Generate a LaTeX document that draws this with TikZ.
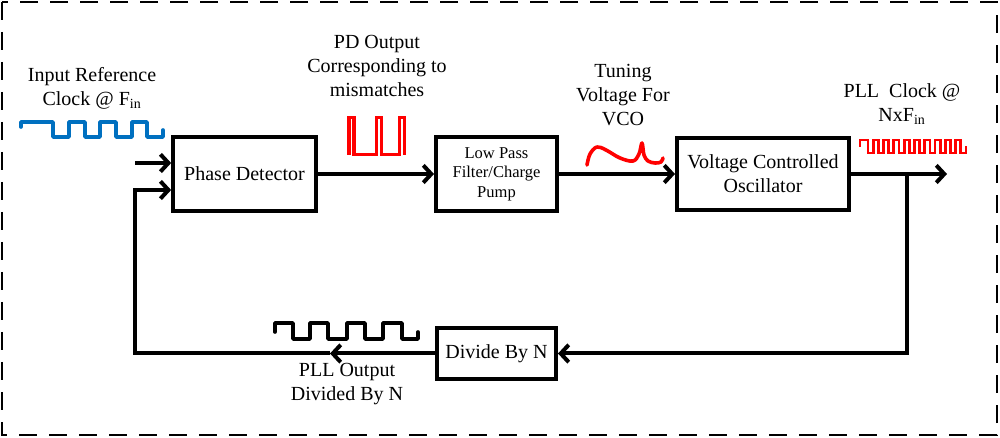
\documentclass[tikz,border=0pt]{standalone}
\usepackage{fontspec}
\setmainfont{Liberation Serif}
\usetikzlibrary{arrows.meta}
\definecolor{wblue}{RGB}{0,112,192}
\definecolor{wred}{RGB}{255,0,0}
\begin{document}
\begin{tikzpicture}[x=0.75pt,y=-0.75pt,
  blk/.style={draw,line width=3pt,inner sep=0pt,align=center,font=\fontsize{15}{18}\selectfont},
  lbl/.style={align=center,inner sep=0pt,font=\fontsize{15}{18}\selectfont},
  conn/.style={line width=3pt,line join=miter},
  arr/.style={conn,-{Straight Barb[length=6pt,width=13pt]}},
  wave/.style={line width=2.7pt,line join=round,line cap=round}]
\useasboundingbox (0,0) rectangle (1000,438);
\draw[line width=2pt,dash pattern=on 13.5pt off 9pt] (2,2) rectangle (997,435);

% blocks
\node[blk,minimum width=107pt,minimum height=56pt] (pd) at (244.5,174) {Phase Detector};
\node[blk,minimum width=90.75pt,minimum height=55.5pt,font=\fontsize{12.4}{14.6}\selectfont] (lpf) at (496.5,174) {Low Pass\\Filter/Charge\\Pump};
\node[blk,minimum width=129pt,minimum height=54pt] (vco) at (763,174) {Voltage Controlled\\Oscillator};
\node[blk,minimum width=89.25pt,minimum height=38.25pt] (div) at (496.5,353.5) {Divide By N};

% labels
\node[lbl] (lin) at (92,88) {Input Reference\\Clock @ F\textsubscript{in}};
\node[lbl] (lpd) at (377,66) {PD Output\\Corresponding to\\mismatches};
\node[lbl] (ltv) at (623,95) {Tuning\\Voltage For\\VCO};
\node[lbl] (lpll) at (902,104.5) {PLL\ \ Clock @\\NxF\textsubscript{in}};
\node[lbl] (lout) at (347,384) {PLL Output\\Divided By N};

% coordinates
\coordinate (in1) at (135,163);
\coordinate (fbt) at (135,190);
\coordinate (fbl) at (135,353.5);
\coordinate (mid) at (330,353.5);
\coordinate (out) at (947,174);
\coordinate (br) at (907,174);
\coordinate (brb) at (907,353.5);

% connectors
\draw[arr] (in1) -- (pd.west |- in1);
\draw[arr] (pd.east) -- (lpf.west);
\draw[arr] (lpf.east) -- (vco.west);
\draw[arr] (vco.east) -- (out);
\draw[arr] (br) -- (brb) -- (div.east);
\draw[arr] (div.west) -- (mid);
\draw[arr] (mid) -- (fbl) -- (fbt) -- (pd.west |- fbt);

% waveforms
\draw[wave,wblue] (21,127) -- (21,122) -- (53,122) -- (53,137) -- (69,137) -- (69,122) -- (85,122) -- (85,137) -- (100,137) -- (100,122) -- (116,122) -- (116,137) -- (132,137) -- (132,122) -- (147,122) -- (147,137) -- (163,137) -- (163,130);
\draw[wave,wred,line cap=butt,line join=miter] (349,155) -- (349,117.5) -- (354,117.5) -- (354,154.5) -- (376.5,154.5) -- (376.5,117.5) -- (381.5,117.5) -- (381.5,154.5) -- (399.5,154.5) -- (399.5,117.5) -- (404.5,117.5) -- (404.5,155);
\draw[wave,wred] plot[smooth,tension=0.6] coordinates {(587,165) (590,154) (597,147) (606,150) (620,158) (633,161) (639,154) (642,143) (644,155) (648,161) (655,163) (661,162) (663,158)};
\draw[wave,wred,line width=2.1pt,line join=miter,line cap=butt] (860,147) -- (860,140) -- (868,140)
  \foreach \i in {0,...,8} { -- ++(0,13) -- ++(5.16,0) -- ++(0,-13) -- ++(5.16,0) }
  -- ++(0,13) -- ++(5.16,0) -- ++(0,-7);
\draw[wave,black] (275,332) -- (275,323) -- (293,323) -- (293,339) -- (310,339) -- (310,323) -- (328,323) -- (328,339) -- (347,339) -- (347,323) -- (365,323) -- (365,339) -- (383,339) -- (383,323) -- (402,323) -- (402,339) -- (418,339) -- (418,332);
\end{tikzpicture}
\end{document}
